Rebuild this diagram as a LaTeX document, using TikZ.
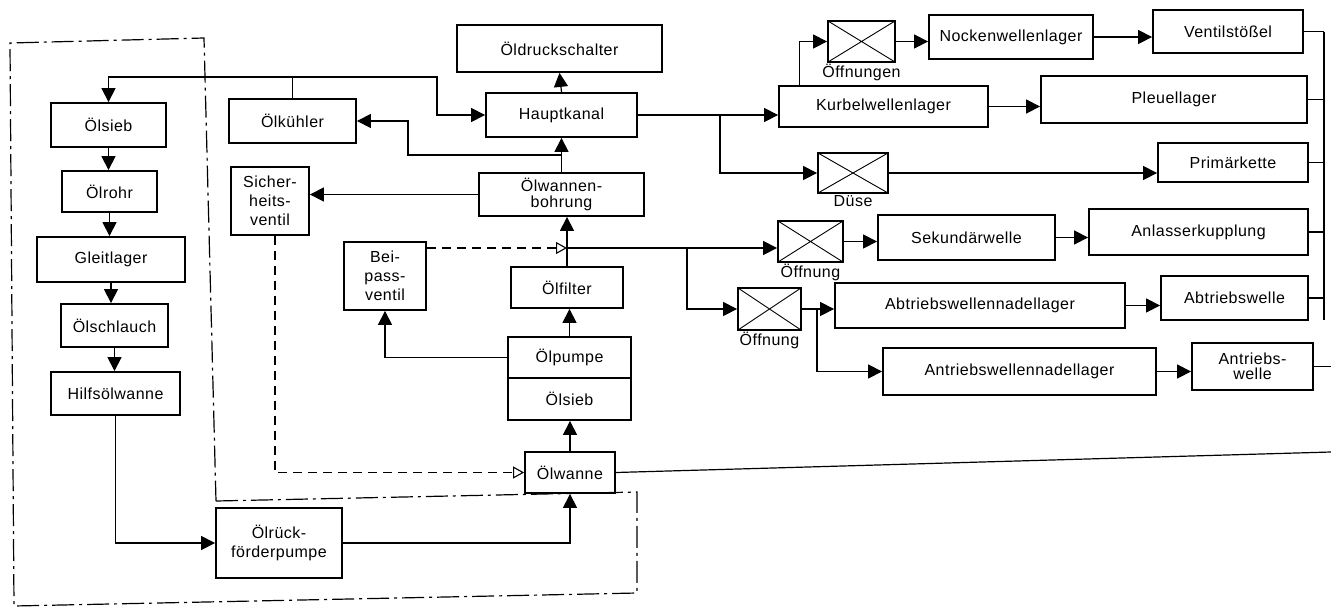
\documentclass[tikz,border=0pt]{standalone}
\usepackage{fontspec}
\setmainfont{Liberation Sans}[LetterSpace=3]
\usetikzlibrary{arrows.meta}
\begin{document}
\begin{tikzpicture}[x=1pt,y=-1pt,
  every node/.style={font=\fontsize{16}{19}\selectfont, inner sep=2pt},
  sz/.style 2 args={minimum width=#1pt, minimum height=#2pt},
  box/.style={draw, line width=1.8pt, align=center},
  xbox/.style={draw, line width=1.8pt, path picture={\draw[line width=0.9pt] (path picture bounding box.north west) -- (path picture bounding box.south east) (path picture bounding box.south west) -- (path picture bounding box.north east);}},
  lbl/.style={anchor=north, inner sep=1.5pt},
  ln/.style={line width=1.2pt},
  arr/.style={ln, -{Triangle[length=14pt,width=14pt]}},
  oarr/.style={line width=1.1pt, dash pattern=on 9pt off 6pt, -{Triangle[open,length=11pt,width=12pt,line width=1.1pt]}},
  dashdot/.style={line width=1.2pt, dash pattern=on 22pt off 5pt on 3pt off 5pt}]
\useasboundingbox (0,0) rectangle (1331,608);

% left column
\node[box,sz={115}{44}] (siebL) at (108.5,125) {Ölsieb};
\node[box,sz={95}{41}] (rohr) at (109.5,191.5) {Ölrohr};
\node[box,sz={148}{45}] (gleit) at (111,259.5) {Gleitlager};
\node[box,sz={107}{43}] (schlauch) at (114.5,325.5) {Ölschlauch};
\node[box,sz={129}{43}] (hilfs) at (115.5,393.5) {Hilfsölwanne};
\node[box,sz={126}{70}] (ruck) at (279,543) {Ölrück-\\förderpumpe};

% middle
\node[box,sz={127}{44}] (kuehler) at (292.5,121) {Ölkühler};
\node[box,sz={78}{68}] (sicher) at (270,201) {Sicher-\\heits-\\ventil};
\node[box,sz={82}{68}] (beipass) at (385,276) {Bei-\\pass-\\ventil};
\node[box,sz={205}{47}] (druck) at (559.5,48.5) {Öldruckschalter};
\node[box,sz={151}{44}] (haupt) at (561.5,115) {Hauptkanal};
\node[box,sz={165}{43},font=\fontsize{16}{16}\selectfont] (bohrung) at (561.5,194.5) {Ölwannen-\\bohrung};
\node[box,sz={112}{41}] (filter) at (567,287.5) {Ölfilter};
\node[box,sz={123}{41}] (pumpe) at (569.5,357.5) {Ölpumpe};
\node[box,sz={123}{42}] (siebM) at (569.5,399) {Ölsieb};
\node[box,sz={90}{41}] (wanne) at (570,472.5) {Ölwanne};

% orifices
\node[xbox,sz={67}{41}] (xoeff) at (861.5,41.5) {};
\node[xbox,sz={70}{40}] (xduese) at (853,173) {};
\node[xbox,sz={65}{41}] (xo1) at (810.5,241.5) {};
\node[xbox,sz={63}{42}] (xo2) at (769.5,309) {};
\node[lbl] (loeff) at (xoeff.south) {Öffnungen};
\node[lbl] (lduese) at (xduese.south) {Düse};
\node[lbl] (lo1) at (xo1.south) {Öffnung};
\node[lbl] (lo2) at (xo2.south) {Öffnung};

% right
\node[box,sz={209}{41}] (kurbel) at (883.5,106.5) {Kurbelwellenlager};
\node[box,sz={164}{44}] (nocken) at (1011,37) {Nockenwellenlager};
\node[box,sz={150}{43}] (ventil) at (1228,31.5) {Ventilstößel};
\node[box,sz={266}{47}] (pleuel) at (1174,99.5) {Pleuellager};
\node[box,sz={150}{39}] (primaer) at (1233,162.5) {Primärkette};
\node[box,sz={177}{45}] (sekundaer) at (966.5,237.5) {Sekundärwelle};
\node[box,sz={219}{46}] (anlasser) at (1198.5,232) {Anlasserkupplung};
\node[box,sz={290}{45}] (abnadel) at (980,305.5) {Abtriebswellennadellager};
\node[box,sz={147}{44}] (abwelle) at (1234.5,298) {Abtriebswelle};
\node[box,sz={273}{47}] (annadel) at (1019.5,371.5) {Antriebswellennadellager};
\node[box,sz={121}{47},font=\fontsize{16}{15}\selectfont] (anwelle) at (1252.5,366.5) {Antriebs-\\welle};

% coordinates
\coordinate (ktop) at (292.5,77);
\coordinate (kright) at (437,77);
\coordinate (J) at (567,248);
\coordinate (J2) at (687,248);
\coordinate (B) at (561.5,155);
\coordinate (B2) at (408,155);
\coordinate (H1) at (720,115);
\coordinate (K) at (817,309);
\coordinate (R1) at (1324,31.5);
\coordinate (R2) at (1324,320);
\coordinate (E1) at (1331,452);
\coordinate (E2) at (1331,366.5);

% cooler / top line
\draw[ln] (kuehler.north) -- (ktop);
\draw[arr] (ktop) -| (siebL.north);
\draw[arr] (ktop) -- (kright) |- (haupt.west);

% left chain
\draw[arr] (siebL.south) -- (siebL.south |- rohr.north);
\draw[arr] (rohr.south) -- (rohr.south |- gleit.north);
\draw[arr] (gleit.south) -- (gleit.south |- schlauch.north);
\draw[arr] (schlauch.south) -- (schlauch.south |- hilfs.north);
\draw[arr] (hilfs.south) |- (ruck.west);
\draw[arr] (ruck.east) -| (wanne.south);

% central stack
\draw[arr] (wanne.north) -- (wanne.north |- siebM.south);
\draw[arr] (pumpe.north) -- (pumpe.north |- filter.south);
\draw[ln] (filter.north) -- (J);
\draw[arr] (J) -- (J |- bohrung.south);
\draw[oarr] (beipass.east |- J) -- (J);
\draw[arr] (pumpe.west) -| (beipass.south);
\draw[oarr] ([xshift=5pt]sicher.south) |- (wanne.west);
\draw[arr] (bohrung.north) -- (haupt.south);
\draw[arr] (B) -- (B2) |- (kuehler.east);
\draw[arr] (haupt.north) -- (druck.south);
\draw[arr] (bohrung.west) -- (bohrung.west -| sicher.east);

% main gallery to the right
\draw[arr] (haupt.east) -- (haupt.east -| kurbel.west);
\draw[arr] (H1) |- (xduese.west);
\draw[arr] ([xshift=21pt]kurbel.north west) |- (xoeff.west);
\draw[arr] (xoeff.east) -- (xoeff.east -| nocken.west);
\draw[arr] (nocken.east) -- (nocken.east -| ventil.west);
\draw[arr] (kurbel.east) -- (kurbel.east -| pleuel.west);
\draw[arr] (xduese.east) -- (xduese.east -| primaer.west);

% after filter
\draw[arr] (J) -- (J -| xo1.west);
\draw[arr] (J2) |- (xo2.west);
\draw[arr] (xo1.east) -- (xo1.east -| sekundaer.west);
\draw[arr] (sekundaer.east) -- (sekundaer.east -| anlasser.west);
\draw[arr] (xo2.east) -- (xo2.east -| abnadel.west);
\draw[arr] (K) |- (annadel.west);
\draw[arr] (abnadel.east) -- (abnadel.east -| abwelle.west);
\draw[arr] (annadel.east) -- (annadel.east -| anwelle.west);

% return on the right
\draw[ln] (R1) -- (R2);
\draw[ln] (ventil.east) -- (ventil.east -| R1);
\draw[ln] (pleuel.east) -- (pleuel.east -| R1);
\draw[ln] (primaer.east) -- (primaer.east -| R1);
\draw[ln] (anlasser.east) -- (anlasser.east -| R1);
\draw[ln] (abwelle.east) -- (abwelle.east -| R1);
\draw[ln] (anwelle.east) -- (E2);
\draw[ln] (wanne.east) -- (E1);

% dash-dot frame
\draw[dashdot] (216,501) -- (637,492) -- (637,593) -- (14,606) -- (10,43) -- (204,38) -- cycle;
\end{tikzpicture}
\end{document}
